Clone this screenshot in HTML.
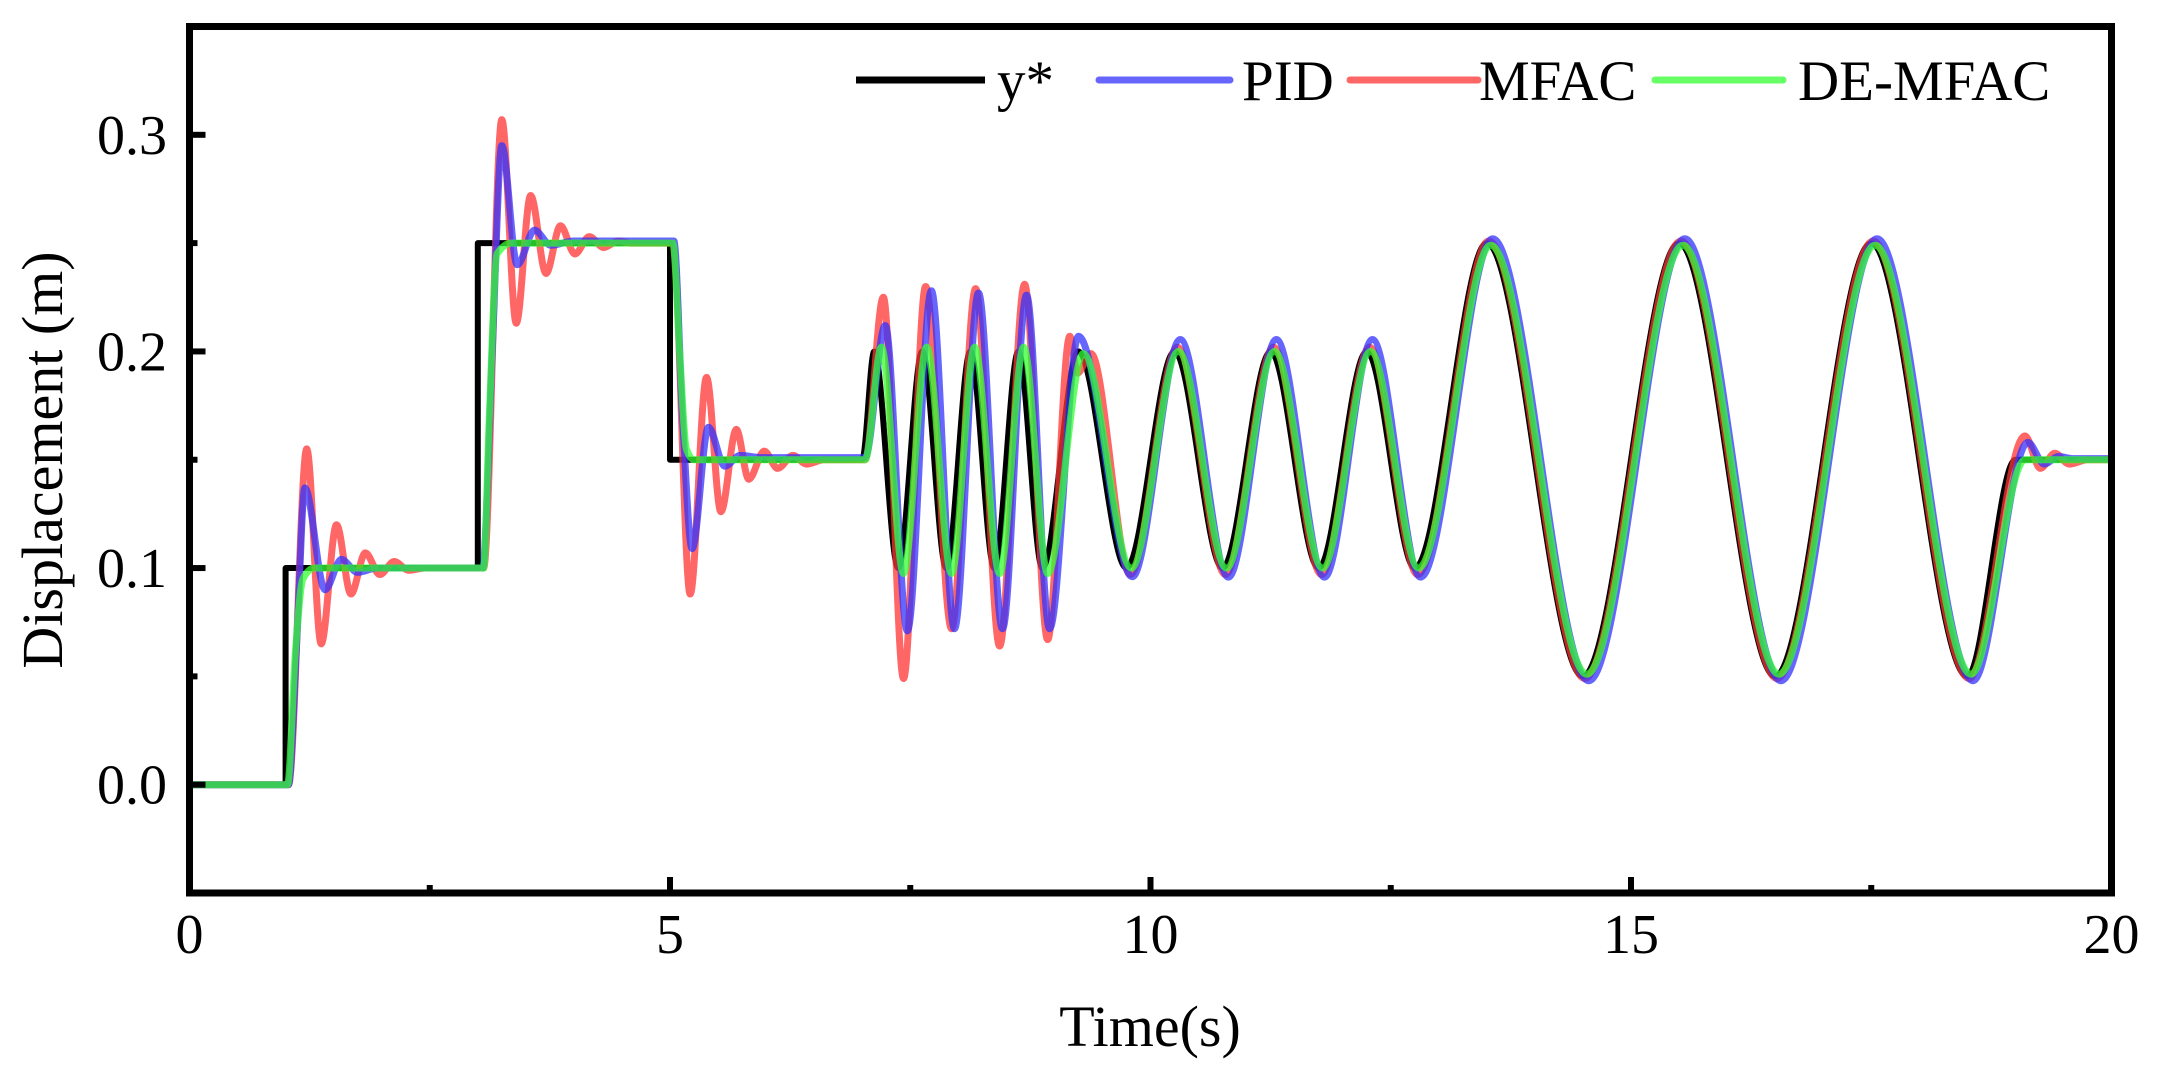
<!DOCTYPE html>
<html>
<head>
<meta charset="utf-8">
<style>
html,body{margin:0;padding:0;background:#fff;}
svg{display:block;}
text{font-family:"Liberation Serif","Times New Roman",serif;fill:#000;}
</style>
</head>
<body>
<svg id="chart" width="2159" height="1079" viewBox="0 0 2159 1079" xmlns="http://www.w3.org/2000/svg">
  <rect x="0" y="0" width="2159" height="1079" fill="#fff"/>
  <g id="series"></g>
  <g id="axes"></g>
  <g id="legend"></g>
  <text x="1150" y="1046" font-size="58" text-anchor="middle">Time(s)</text>
  <text x="0" y="0" font-size="58" text-anchor="middle" transform="translate(62,460) rotate(-90)">Displacement (m)</text>
</svg>
<script>
// ---- data ----
const xTicks = [0, 5, 10, 15, 20];
const xTickLabels = ["0", "5", "10", "15", "20"];
const xMinorTicks = [2.5, 7.5, 12.5, 17.5];
const yTicks = [0.0, 0.1, 0.2, 0.3];
const yTickLabels = ["0.0", "0.1", "0.2", "0.3"];
const yMinorTicks = [0.05, 0.15, 0.25];
const seriesNames = ["y*", "PID", "MFAC", "DE-MFAC"];

const refT = [0,1,1,3,3,5,5,7,7.125,7.375,7.625,7.875,8.125,8.375,8.625,8.875,9.25,9.75,10.25,10.75,11.25,11.75,12.25,12.75,13.5,14.5,15.5,16.5,17.5,18.5,19,20];
const refV = [0,0,0.1,0.1,0.25,0.25,0.15,0.15,0.2,0.1,0.2,0.1,0.2,0.1,0.2,0.1,0.2,0.1,0.2,0.1,0.2,0.1,0.2,0.1,0.25,0.05,0.25,0.05,0.25,0.05,0.15,0.15];

const pidT = [0,1.03,1.12,1.2,1.41,1.58,1.75,1.95,3.05,3.15,3.25,3.41,3.59,3.76,4.0,5.04,5.13,5.23,5.40,5.57,5.73,5.95,7.03,7.24,7.47,7.72,7.96,8.21,8.46,8.71,8.95,9.25,9.81,10.31,10.81,11.31,11.81,12.31,12.81,13.56,14.56,15.56,16.56,17.56,18.56,19.13,19.3,19.45,19.6,20];
const pidV = [0,0,0.07,0.137,0.09,0.104,0.098,0.1,0.1,0.2,0.295,0.24,0.256,0.249,0.251,0.251,0.17,0.109,0.165,0.147,0.152,0.151,0.151,0.212,0.071,0.228,0.072,0.227,0.072,0.226,0.072,0.207,0.096,0.2055,0.0958,0.2055,0.0958,0.2055,0.0958,0.252,0.048,0.252,0.048,0.252,0.048,0.158,0.148,0.1515,0.1505,0.1505];

const mfacT = [0,1.03,1.22,1.37,1.53,1.68,1.83,1.98,2.13,2.28,2.45,3.06,3.25,3.40,3.55,3.71,3.86,4.01,4.16,4.31,4.46,4.6,5.03,5.21,5.38,5.53,5.69,5.82,5.98,6.12,6.28,6.42,6.6,7.03,7.22,7.43,7.66,7.93,8.18,8.43,8.69,8.93,9.16,9.24,9.38,9.79,10.28,10.78,11.28,11.78,12.28,12.78,13.52,14.52,15.52,16.52,17.52,18.52,19.1,19.26,19.41,19.56,19.75,20];
const mfacV = [0,0,0.155,0.065,0.12,0.088,0.107,0.097,0.103,0.099,0.1,0.1,0.307,0.213,0.272,0.236,0.258,0.245,0.253,0.248,0.251,0.25,0.25,0.088,0.188,0.126,0.164,0.141,0.154,0.146,0.152,0.148,0.15,0.15,0.225,0.049,0.23,0.072,0.229,0.064,0.231,0.067,0.207,0.19,0.199,0.097,0.202,0.097,0.202,0.097,0.202,0.097,0.251,0.049,0.251,0.049,0.251,0.049,0.161,0.146,0.153,0.148,0.15,0.15];

const demfacT = [0,1.02,1.1,1.18,1.3,3.06,3.12,3.2,3.35,5.03,5.1,5.17,5.25,7.03,7.2,7.43,7.67,7.93,8.17,8.43,8.68,8.93,9.3,9.8,10.29,10.79,11.29,11.79,12.29,12.79,13.54,14.54,15.54,16.54,17.54,18.54,19.1,20];
const demfacV = [0,0,0.06,0.095,0.1,0.1,0.17,0.245,0.25,0.25,0.2,0.155,0.15,0.15,0.202,0.0975,0.202,0.0975,0.202,0.0975,0.202,0.0975,0.199,0.1,0.2,0.1,0.2,0.1,0.2,0.1,0.249,0.051,0.249,0.051,0.249,0.051,0.15,0.15];

// ---- layout ----
const X0 = 189.5, X1 = 2111.5, Y0 = 893, Y1 = 26.5;
const xMin = 0, xMax = 20, yMin = -0.05, yMax = 0.35;
function sx(t){ return X0 + (t - xMin) / (xMax - xMin) * (X1 - X0); }
function sy(v){ return Y0 - (v - yMin) / (yMax - yMin) * (Y0 - Y1); }
const NS = "http://www.w3.org/2000/svg";

// monotone cubic path through points; equal consecutive t -> straight vertical
function segPath(px, py){
  const n = px.length;
  if (n === 1) return "";
  if (n === 2) return "L" + px[1].toFixed(2) + "," + py[1].toFixed(2);
  const d = [], m = new Array(n);
  for (let i = 0; i < n - 1; i++) d.push((py[i+1]-py[i])/(px[i+1]-px[i]));
  m[0] = 0; m[n-1] = 0;
  for (let i = 1; i < n - 1; i++){
    if (d[i-1]*d[i] <= 0) m[i] = 0;
    else {
      const h0 = px[i]-px[i-1], h1 = px[i+1]-px[i];
      const s = (d[i-1]*h1 + d[i]*h0)/(h0+h1);
      m[i] = (Math.sign(d[i-1]) + Math.sign(d[i])) * Math.min(Math.abs(d[i-1]), Math.abs(d[i]), 0.5*Math.abs(s));
    }
  }
  let s = "";
  for (let i = 0; i < n - 1; i++){
    const h = (px[i+1]-px[i])/3;
    s += "C" + (px[i]+h).toFixed(2) + "," + (py[i]+m[i]*h).toFixed(2) + " " +
         (px[i+1]-h).toFixed(2) + "," + (py[i+1]-m[i+1]*h).toFixed(2) + " " +
         px[i+1].toFixed(2) + "," + py[i+1].toFixed(2);
  }
  return s;
}
function buildPath(T, V){
  let d = "M" + sx(T[0]).toFixed(2) + "," + sy(V[0]).toFixed(2);
  let px = [sx(T[0])], py = [sy(V[0])];
  for (let i = 1; i < T.length; i++){
    if (T[i] === T[i-1]){
      d += segPath(px, py);
      d += "L" + sx(T[i]).toFixed(2) + "," + sy(V[i]).toFixed(2);
      px = [sx(T[i])]; py = [sy(V[i])];
    } else { px.push(sx(T[i])); py.push(sy(V[i])); }
  }
  d += segPath(px, py);
  return d;
}

const series = document.getElementById("series");
function addLine(T, V, color, width, opacity, name){
  const p = document.createElementNS(NS, "path");
  p.setAttribute("d", buildPath(T, V));
  p.setAttribute("fill", "none");
  p.setAttribute("stroke", color);
  p.setAttribute("stroke-width", width);
  p.setAttribute("stroke-opacity", opacity);
  p.setAttribute("stroke-linejoin", "round");
  p.setAttribute("stroke-linecap", "round");
  
  
  series.appendChild(p);
}
addLine(refT, refV, "#000000", 6, 1, "line-y-star");
addLine(mfacT, mfacV, "#FF3333", 7, 0.75, "line-mfac");
addLine(pidT, pidV, "#3333FF", 7, 0.75, "line-pid");
addLine(demfacT, demfacV, "#33FF33", 7, 0.75, "line-de-mfac");

// ---- axes ----
const axes = document.getElementById("axes");
const frame = document.createElementNS(NS, "rect");
frame.setAttribute("x", X0); frame.setAttribute("y", Y1);
frame.setAttribute("width", X1 - X0); frame.setAttribute("height", Y0 - Y1);
frame.setAttribute("fill", "none"); frame.setAttribute("stroke", "#000"); frame.setAttribute("stroke-width", 7);


axes.appendChild(frame);

function tickLine(x1, y1, x2, y2, name){
  const l = document.createElementNS(NS, "line");
  l.setAttribute("x1", x1); l.setAttribute("y1", y1); l.setAttribute("x2", x2); l.setAttribute("y2", y2);
  l.setAttribute("stroke", "#000"); l.setAttribute("stroke-width", 6);
  
  
  axes.appendChild(l);
}
function label(x, y, txt, anchor, name){
  const t = document.createElementNS(NS, "text");
  t.setAttribute("x", x); t.setAttribute("y", y);
  t.setAttribute("font-size", 56); t.setAttribute("text-anchor", anchor);
  t.textContent = txt;
  
  
  axes.appendChild(t);
}
xTicks.forEach((v, i) => {
  tickLine(sx(v), Y0, sx(v), Y0 - 16, "x-major-tick");
  label(sx(v), 953, xTickLabels[i], "middle", "x-tick-label");
});
xMinorTicks.forEach(v => tickLine(sx(v), Y0, sx(v), Y0 - 8, "x-minor-tick"));
yTicks.forEach((v, i) => {
  tickLine(X0, sy(v), X0 + 16, sy(v), "y-major-tick");
  label(167, sy(v) + 19, yTickLabels[i], "end", "y-tick-label");
});
yMinorTicks.forEach(v => tickLine(X0, sy(v), X0 + 8, sy(v), "y-minor-tick"));

// ---- legend ----
const legend = document.getElementById("legend");
const legColors = ["#000000", "#6666FF", "#FF6666", "#66FF66"];
const legLineX = [[856, 985], [1099, 1230], [1350, 1478], [1655, 1783]];
const legTextX = [997, 1242, 1479, 1798];
seriesNames.forEach((nm, i) => {
  const g = document.createElementNS(NS, "g");
  
  
  const l = document.createElementNS(NS, "line");
  l.setAttribute("x1", legLineX[i][0]); l.setAttribute("x2", legLineX[i][1]);
  l.setAttribute("y1", 80); l.setAttribute("y2", 80);
  l.setAttribute("stroke", legColors[i]); l.setAttribute("stroke-width", 7);
  l.setAttribute("stroke-linecap", i === 0 ? "butt" : "round");
  
  
  g.appendChild(l);
  const t = document.createElementNS(NS, "text");
  t.setAttribute("x", legTextX[i]); t.setAttribute("y", 100);
  t.setAttribute("font-size", 57);
  t.textContent = nm;
  
  
  g.appendChild(t);
  legend.appendChild(g);
});
</script>
</body>
</html>
